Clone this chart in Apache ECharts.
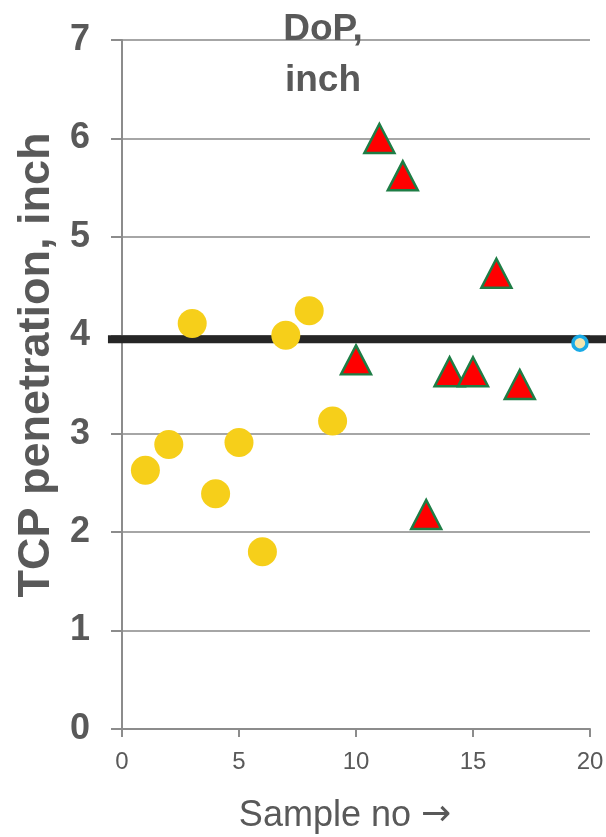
<!DOCTYPE html>
<html>
<head>
<meta charset="utf-8">
<script src="https://cdn.jsdelivr.net/npm/echarts@6/dist/echarts.min.js"></script>
<style>html,body{margin:0;padding:0;background:#fff;}#c{width:606px;height:837px;}</style>
</head>
<body>
<div id="c"></div>
<script>
// Data
var yellowX = [1, 2, 3, 4, 5, 6, 7, 8, 9];
var yellowY = [2.63, 2.89, 4.12, 2.39, 2.91, 1.80, 4.00, 4.25, 3.13];
var redX = [10, 11, 12, 13, 14, 15, 16, 17];
var redY = [3.75, 6.00, 5.62, 2.18, 3.63, 3.63, 4.63, 3.50];
var blueX = [19.57];
var blueY = [3.92];
var refLineX = [-0.6, 22];
var refLineY = [3.96, 3.96];
var xTicks = [0, 5, 10, 15, 20];
var yTicks = [0, 1, 2, 3, 4, 5, 6, 7];

function pairs(xs, ys) { return xs.map(function (x, i) { return [x, ys[i]]; }); }

var FONT = "'Liberation Sans', Arial, sans-serif";
var GRAY = '#595959';
var chart = echarts.init(document.getElementById('c'), null, {renderer: 'canvas'});
chart.setOption({
  animation: false,
  backgroundColor: '#ffffff',
  grid: {left: 122, right: 16, top: 40, bottom: 108, containLabel: false, outerBoundsMode: 'none'},
  graphic: [{
    type: 'text', x: 323, y: 4, z: 100,
    style: {text: 'DoP,\ninch', fill: GRAY, font: 'bold 37px ' + FONT, textAlign: 'center', textVerticalAlign: 'top', lineHeight: 51}
  }, {
    type: 'text', x: 37, y: 365, rotation: Math.PI / 2, z: 100,
    style: {text: 'TCP penetration, inch', fill: GRAY, font: 'bold 45px ' + FONT, textAlign: 'center', textVerticalAlign: 'middle'}
  }],
  xAxis: {
    type: 'value', min: xTicks[0], max: xTicks[xTicks.length - 1], interval: 5,
    name: 'Sample no {a|→}', nameLocation: 'middle', nameGap: 69,
    nameTextStyle: {color: GRAY, fontSize: 36, fontFamily: FONT, padding: [0, 22, 0, 0],
      rich: {a: {color: GRAY, fontSize: 36, fontFamily: "'DejaVu Sans', sans-serif"}}},
    axisLine: {show: true, lineStyle: {color: '#8c8c8c', width: 2}},
    axisTick: {show: true, length: 8, lineStyle: {color: '#8c8c8c', width: 2}},
    axisLabel: {color: GRAY, fontSize: 24, fontFamily: FONT, margin: 21},
    splitLine: {show: false}
  },
  yAxis: {
    type: 'value', min: yTicks[0], max: yTicks[yTicks.length - 1], interval: 1,
    axisLine: {show: true, lineStyle: {color: '#8c8c8c', width: 2}},
    axisTick: {show: true, length: 11, lineStyle: {color: '#8c8c8c', width: 2}},
    axisLabel: {color: GRAY, fontSize: 36, fontWeight: 'bold', fontFamily: FONT, margin: 32},
    splitLine: {show: true, lineStyle: {color: '#a6a6a6', width: 2}}
  },
  series: [
    {
      type: 'custom', clip: false, z: 1,
      data: [[refLineX[0], refLineY[0], refLineX[1], refLineY[1]]],
      renderItem: function (params, api) {
        var p1 = api.coord([api.value(0), api.value(1)]);
        var p2 = api.coord([api.value(2), api.value(3)]);
        return {
          type: 'line',
          shape: {x1: p1[0], y1: p1[1], x2: p2[0], y2: p2[1]},
          style: {stroke: '#262626', lineWidth: 8}
        };
      }
    },
    {
      type: 'scatter', data: pairs(yellowX, yellowY), symbol: 'circle', symbolSize: 29,
      itemStyle: {color: '#f6cf1a', opacity: 1}, z: 3
    },
    {
      type: 'scatter', data: pairs(redX, redY), symbol: 'triangle', symbolSize: [30, 29],
      itemStyle: {color: '#ff0000', borderColor: '#1e7d45', borderWidth: 2.5, opacity: 1}, z: 3
    },
    {
      type: 'scatter', data: pairs(blueX, blueY), symbol: 'circle', symbolSize: 14,
      itemStyle: {color: '#f2e6b0', borderColor: '#19aae6', borderWidth: 3.5, opacity: 1}, z: 4
    }
  ]
});
</script>
</body>
</html>
